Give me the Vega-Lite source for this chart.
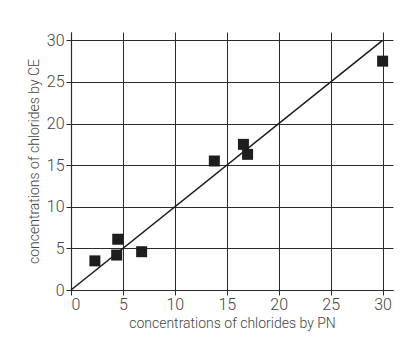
{
  "$schema": "https://vega.github.io/schema/vega-lite/v6.json",
  "width": 322,
  "height": 258,
  "autosize": {"type": "none"},
  "padding": {"left": 71, "top": 32, "right": 18, "bottom": 55},
  "background": "white",
  "config": {
    "view": {"stroke": null},
    "font": "Roboto",
    "axis": {
      "labelFont": "Roboto",
      "titleFont": "Roboto",
      "labelFontWeight": 300,
      "labelFontSize": 16,
      "titleFontSize": 14,
      "labelColor": "#444",
      "titleColor": "#444",
      "titleFontWeight": 300,
      "grid": true,
      "gridColor": "#2a2a2a",
      "gridWidth": 1,
      "gridOpacity": 1,
      "domainColor": "#2a2a2a",
      "domainWidth": 1.2,
      "tickColor": "#2a2a2a",
      "tickSize": 5,
      "tickWidth": 1
    }
  },
  "layer": [
    {
      "data": {"values": [{"pn": 0, "ce": 0}, {"pn": 30, "ce": 30}]},
      "mark": {"type": "line", "color": "#1a1a1a", "strokeWidth": 1.5},
      "encoding": {
        "x": {
          "field": "pn", "type": "quantitative",
          "scale": {"domain": [0, 31], "nice": false},
          "axis": {
            "values": [0, 5, 10, 15, 20, 25, 30],
            "title": "concentrations of chlorides by PN",
            "labelPadding": 1,
            "titlePadding": 4
          }
        },
        "y": {
          "field": "ce", "type": "quantitative",
          "scale": {"domain": [0, 31], "nice": false},
          "axis": {
            "values": [0, 5, 10, 15, 20, 25, 30],
            "title": "concentrations of chlorides by CE",
            "labelPadding": 2,
            "titlePadding": 5
          }
        }
      }
    },
    {
      "data": {
        "values": [
          {"pn": 2.3, "ce": 3.5},
          {"pn": 4.5, "ce": 6.1},
          {"pn": 4.4, "ce": 4.2},
          {"pn": 6.8, "ce": 4.6},
          {"pn": 13.8, "ce": 15.5},
          {"pn": 16.6, "ce": 17.5},
          {"pn": 17.0, "ce": 16.3},
          {"pn": 30.0, "ce": 27.5}
        ]
      },
      "mark": {"type": "square", "filled": true, "color": "#1e1e1e", "opacity": 1, "size": 121},
      "encoding": {
        "x": {"field": "pn", "type": "quantitative"},
        "y": {"field": "ce", "type": "quantitative"}
      }
    }
  ]
}
